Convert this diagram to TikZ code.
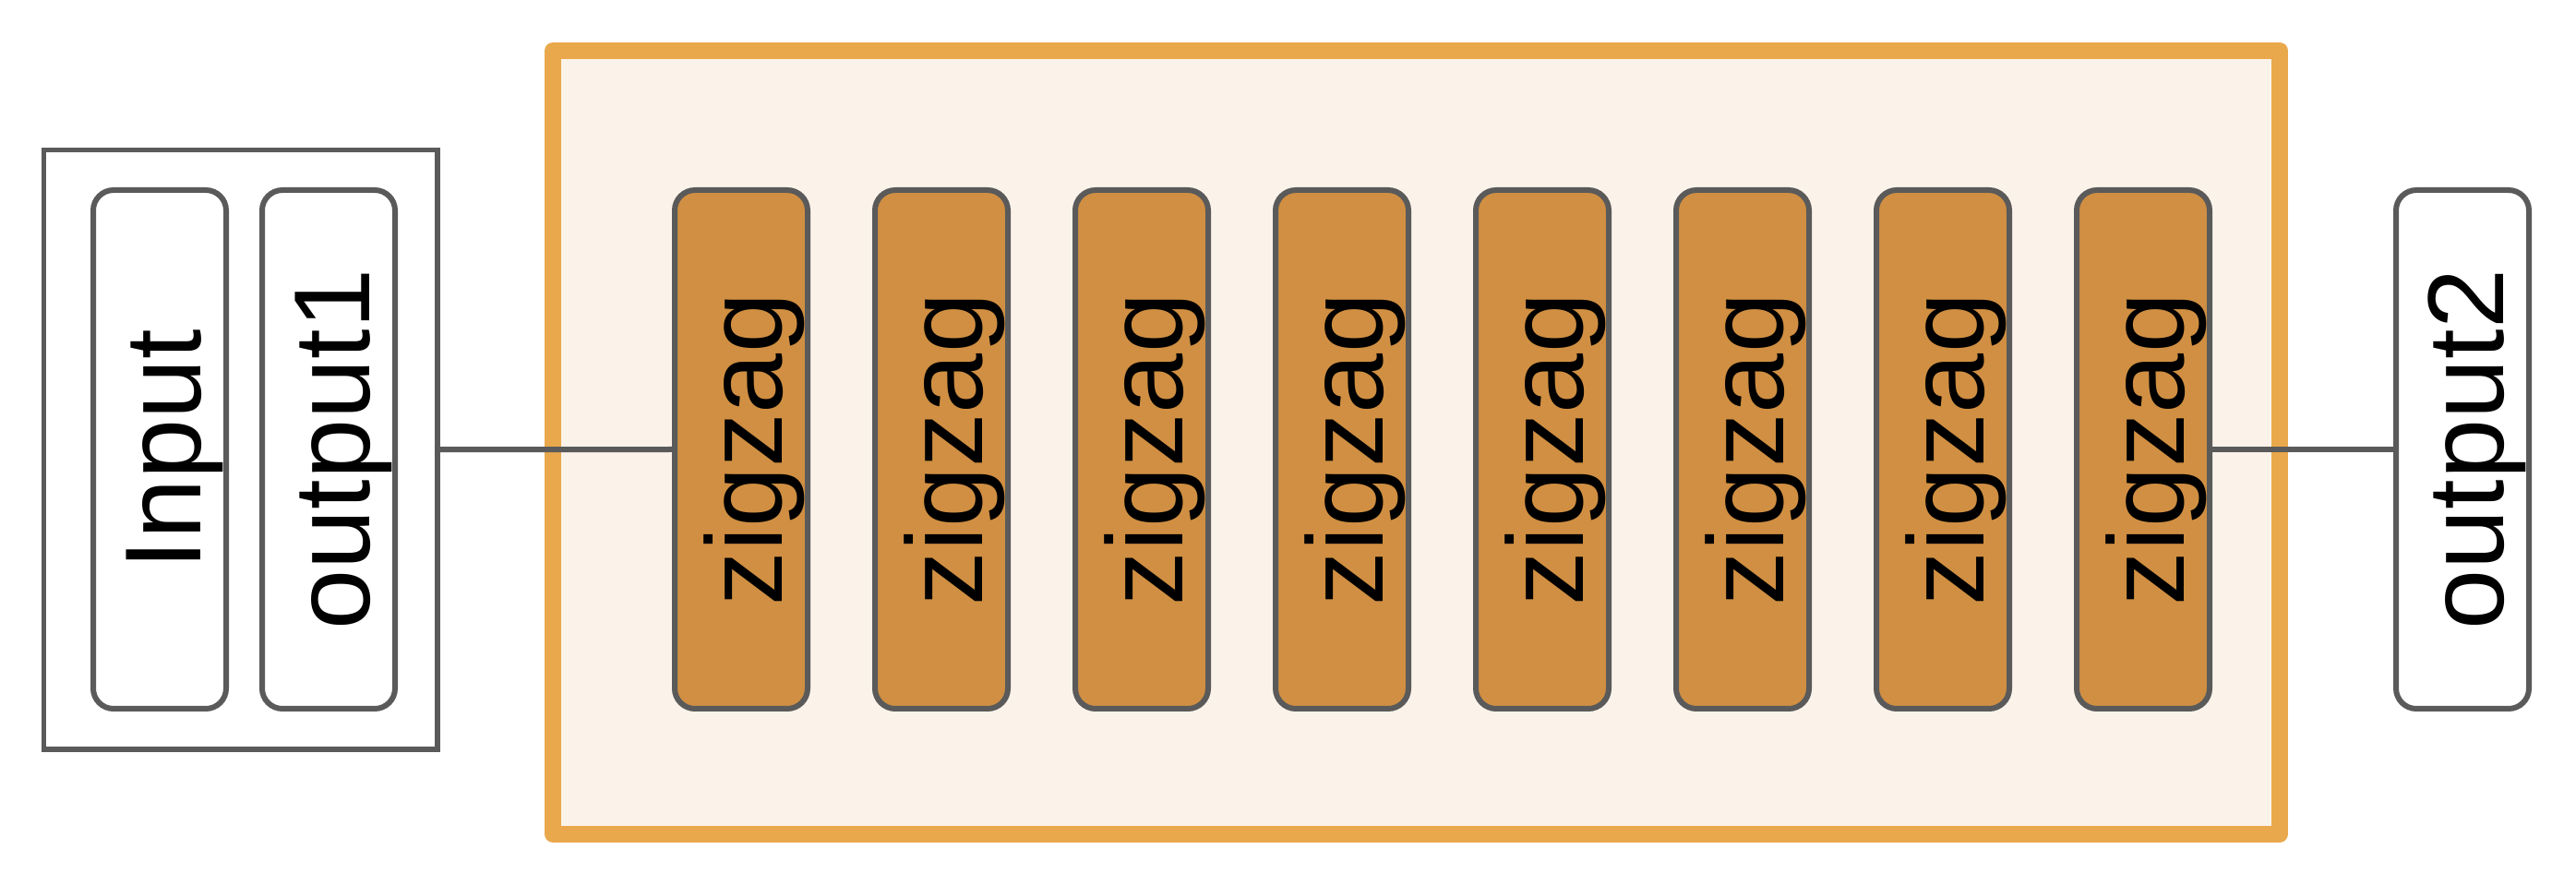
\documentclass[tikz,border=0pt]{standalone}
\usepackage{fontspec}
\setmainfont{Liberation Sans}
\usepackage{tikz}
\definecolor{linegrey}{RGB}{90,90,90}
\definecolor{frameorange}{RGB}{233,168,75}
\definecolor{framefill}{RGB}{251,243,233}
\definecolor{zigfill}{RGB}{208,143,66}

\begin{document}
\begin{tikzpicture}[
    block/.style={draw=linegrey, line width=0.06cm, rounded corners=0.22cm,
                  minimum width=1.44cm, minimum height=5.62cm, inner sep=0pt},
    zz/.style={block, fill=zigfill},
    vtext/.style={rotate=90, anchor=base, inner sep=0pt,
                  font=\fontsize{33.3pt}{40pt}\selectfont},
    link/.style={draw=linegrey, line width=0.06cm}
  ]
    \useasboundingbox (0,0) rectangle (27.91,9.58);
    % orange frame
    \node[draw=frameorange, fill=framefill, line width=0.18cm, line join=round,
          minimum width=18.71cm, minimum height=8.485cm, inner sep=0pt] (stack) at (15.345, 4.7875) {};
    % left group
    \node[draw=linegrey, line width=0.055cm, minimum width=4.265cm,
          minimum height=6.495cm, inner sep=0pt] (group) at (2.6075, 4.7075) {};
    \node[block] (in) at (1.73, 4.71) {};
    \node[vtext] (intxt) at ([xshift=0.44cm]in.center) {Input};
    \node[block] (out1) at (3.56, 4.71) {};
    \node[vtext] (out1txt) at ([xshift=0.44cm]out1.center) {output1};
    % zigzag layers
    \foreach \i in {1,...,8} {
        \node[zz] (z\i) at ({8.03+(\i-1)*2.17}, 4.71) {};
        \node[vtext] (zt\i) at ([xshift=0.44cm]z\i.center) {zigzag};
    }
    % right output
    \node[block] (out2) at (26.68, 4.71) {};
    \node[vtext] (out2txt) at ([xshift=0.44cm]out2.center) {output2};
    \draw[link] (group.east) -- (z1.west);
    \draw[link] (z8.east) -- (out2.west);
\end{tikzpicture}
\end{document}
